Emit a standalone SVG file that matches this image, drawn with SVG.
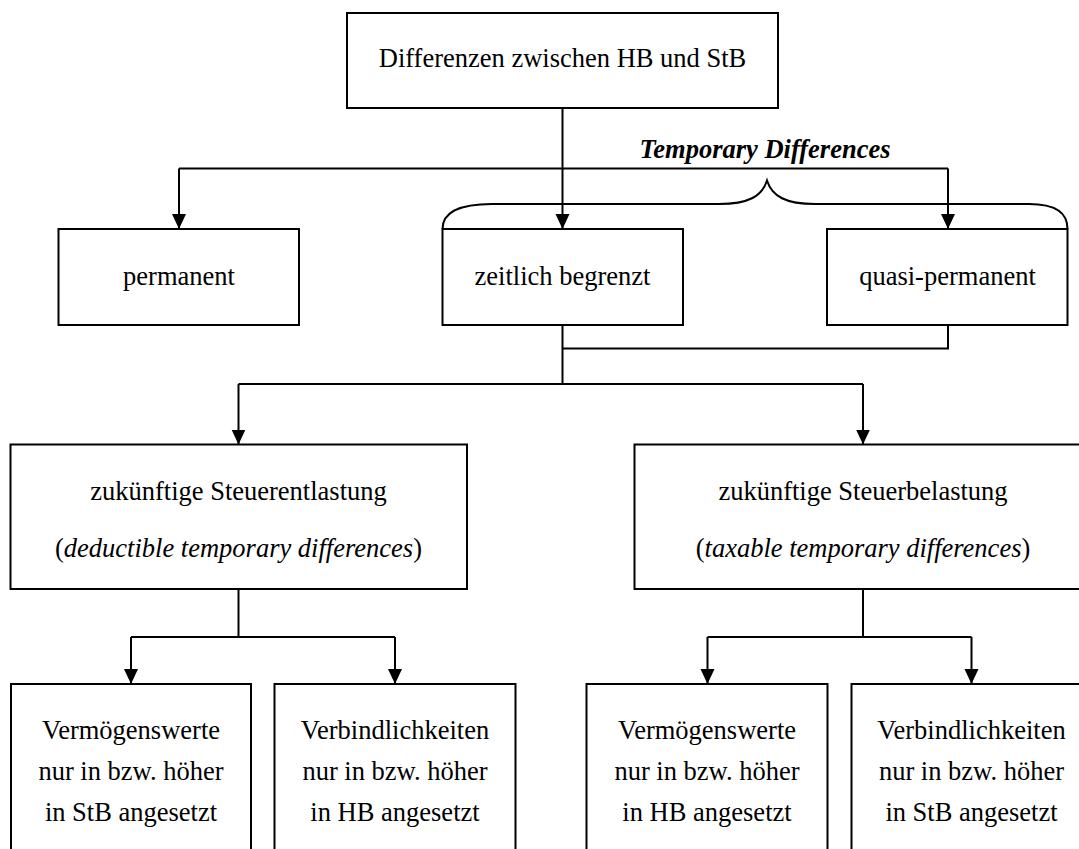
<svg xmlns="http://www.w3.org/2000/svg" width="1079" height="849" viewBox="0 0 1079 849">
  <style>
    .box { fill: #ffffff; stroke: #000000; stroke-width: 2; }
    .wire { fill: none; stroke: #000000; stroke-width: 2; }
    .lbl { font-family: "Liberation Serif", "Times New Roman", serif; font-size: 26.5px; fill: #000000; text-anchor: middle; }
    .it { font-style: italic; }
    .hdr { font-weight: bold; font-style: italic; }
  </style>
  <defs>
    <marker id="arrow" markerUnits="userSpaceOnUse" markerWidth="16" markerHeight="16" viewBox="0 0 16 16" refX="15" refY="8" orient="auto">
      <path d="M0,1 L15,8 L0,15 Z" fill="#000000"/>
    </marker>
  </defs>
  <rect width="1079" height="849" fill="#ffffff"/>

  <!-- connectors -->
  <g id="connectors">
    <!-- root to first level -->
    <path class="wire" d="M562.5,108 L562.5,229" marker-end="url(#arrow)"/>
    <path class="wire" d="M179,168.5 L948,168.5"/>
    <path class="wire" d="M179,168.5 L179,229" marker-end="url(#arrow)"/>
    <path class="wire" d="M948,168.5 L948,229" marker-end="url(#arrow)"/>
    <!-- brace spanning the temporary differences -->
    <path class="wire" d="M442.5,229 C442.5,212.5 458,204 492,204 L719,204 C748,204 762,196.5 767,180.5 C772,196.5 786,204 815,204 L1029,204 C1056,204 1067.5,212.5 1067.5,229"/>
    <!-- merge of zeitlich begrenzt and quasi-permanent -->
    <path class="wire" d="M948,325 L948,348.5 L562.5,348.5"/>
    <path class="wire" d="M562.5,325 L562.5,384"/>
    <path class="wire" d="M238.5,384 L863,384"/>
    <path class="wire" d="M238.5,384 L238.5,444.5" marker-end="url(#arrow)"/>
    <path class="wire" d="M863,384 L863,444.5" marker-end="url(#arrow)"/>
    <!-- left branch -->
    <path class="wire" d="M238.5,589 L238.5,637"/>
    <path class="wire" d="M131,637 L395,637"/>
    <path class="wire" d="M131,637 L131,684" marker-end="url(#arrow)"/>
    <path class="wire" d="M395,637 L395,684" marker-end="url(#arrow)"/>
    <!-- right branch -->
    <path class="wire" d="M863,589 L863,637"/>
    <path class="wire" d="M707.5,637 L971.5,637"/>
    <path class="wire" d="M707.5,637 L707.5,684" marker-end="url(#arrow)"/>
    <path class="wire" d="M971.5,637 L971.5,684" marker-end="url(#arrow)"/>
  </g>

  <text class="lbl hdr" x="765" y="158">Temporary Differences</text>

  <g id="root">
    <rect class="box" x="347" y="13" width="431" height="95"/>
    <text class="lbl" x="562.5" y="67">Differenzen zwischen HB und StB</text>
  </g>

  <g id="permanent">
    <rect class="box" x="58.5" y="229" width="240.5" height="96"/>
    <text class="lbl" x="179" y="285">permanent</text>
  </g>

  <g id="zeitlich">
    <rect class="box" x="442.5" y="229" width="240.5" height="96"/>
    <text class="lbl" x="562.5" y="285">zeitlich begrenzt</text>
  </g>

  <g id="quasi">
    <rect class="box" x="827" y="229" width="240.5" height="96"/>
    <text class="lbl" x="947.5" y="285">quasi-permanent</text>
  </g>

  <g id="entlastung">
    <rect class="box" x="10.5" y="444.5" width="456.5" height="144.5"/>
    <text class="lbl" x="238.5" y="500">zukünftige Steuerentlastung</text>
    <text class="lbl" x="238.5" y="557">(<tspan class="it">deductible temporary differences</tspan>)</text>
  </g>

  <g id="belastung">
    <rect class="box" x="634.5" y="444.5" width="457" height="144.5"/>
    <text class="lbl" x="863" y="500">zukünftige Steuerbelastung</text>
    <text class="lbl" x="863" y="557">(<tspan class="it">taxable temporary differences</tspan>)</text>
  </g>

  <g id="verm-stb">
    <rect class="box" x="11" y="684" width="240" height="180"/>
    <text class="lbl" x="131" y="739">Vermögenswerte</text>
    <text class="lbl" x="131" y="780">nur in bzw. höher</text>
    <text class="lbl" x="131" y="821">in StB angesetzt</text>
  </g>

  <g id="verb-hb">
    <rect class="box" x="274.5" y="684" width="241" height="180"/>
    <text class="lbl" x="395" y="739">Verbindlichkeiten</text>
    <text class="lbl" x="395" y="780">nur in bzw. höher</text>
    <text class="lbl" x="395" y="821">in HB angesetzt</text>
  </g>

  <g id="verm-hb">
    <rect class="box" x="586.5" y="684" width="241" height="180"/>
    <text class="lbl" x="707" y="739">Vermögenswerte</text>
    <text class="lbl" x="707" y="780">nur in bzw. höher</text>
    <text class="lbl" x="707" y="821">in HB angesetzt</text>
  </g>

  <g id="verb-stb">
    <rect class="box" x="851.5" y="684" width="241" height="180"/>
    <text class="lbl" x="971.5" y="739">Verbindlichkeiten</text>
    <text class="lbl" x="971.5" y="780">nur in bzw. höher</text>
    <text class="lbl" x="971.5" y="821">in StB angesetzt</text>
  </g>
</svg>
